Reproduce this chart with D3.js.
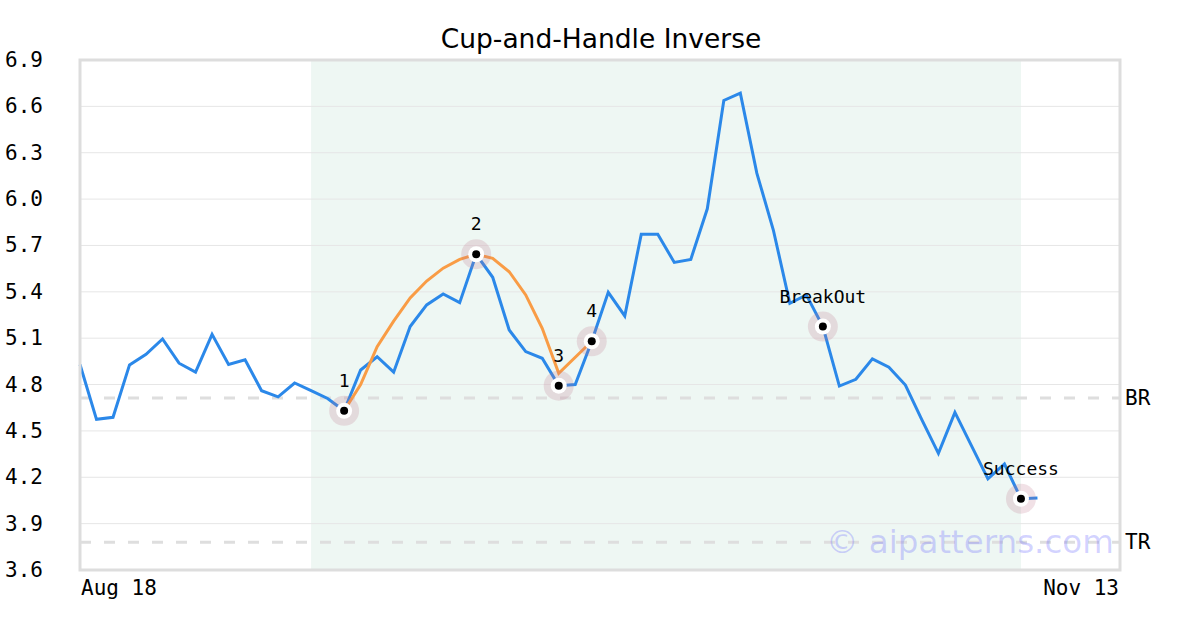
<!DOCTYPE html>
<html>
<head>
  <meta charset="utf-8">
  <script src="https://d3js.org/d3.v7.min.js"></script>
  <style>
    body{ margin:0; background:#fff; }
    .mono{ font-family:"DejaVu Sans Mono", monospace; }
  </style>
</head>
<body>
  <svg width="1200" height="630" id="chart"></svg>
  <script>
    // price series, one value per trading day (index 0 = Aug 18)
    var prices = [
      4.93, 4.575, 4.588, 4.927, 4.996, 5.095, 4.938, 4.88, 5.125, 4.93,
      4.96, 4.76, 4.72, 4.81, 4.76, 4.71, 4.63, 4.894, 4.98, 4.88,
      5.175, 5.315, 5.386, 5.33, 5.643, 5.494, 5.153, 5.013, 4.97, 4.793,
      4.80, 5.08, 5.397, 5.244, 5.773, 5.773, 5.59, 5.61, 5.937, 6.638,
      6.685, 6.168, 5.80, 5.326, 5.38, 5.175, 4.79, 4.834, 4.966, 4.912,
      4.797, 4.571, 4.355, 4.62, 4.405, 4.19, 4.286, 4.061, 4.066
    ];

    // fitted cup (orange), index -> value
    var cupIdx = [16, 17, 18, 19, 20, 21, 22, 23, 24, 25, 26, 27, 28, 29, 31];
    var cupVals = [4.63, 4.80, 5.045, 5.21, 5.36, 5.47, 5.553, 5.61, 5.643, 5.617, 5.53, 5.38, 5.164, 4.873, 5.08];

    // pattern points
    var markIdx = [16, 24, 29, 31, 45, 57];
    var markLabels = ["1", "2", "3", "4", "BreakOut", "Success"];

    // shaded pattern window
    var shadeRange = [14, 57];

    // reference levels
    var levelNames = ["BR", "TR"];
    var levelVals = [4.713, 3.78];

    var yTicks = [3.6, 3.9, 4.2, 4.5, 4.8, 5.1, 5.4, 5.7, 6.0, 6.3, 6.6, 6.9];
    var xTickIdx = [0, 63];
    var xTickLabels = ["Aug 18", "Nov 13"];

    var svg = d3.select("svg#chart");
    var plotL = 80, plotT = 60, plotR = 1120, plotB = 570;

    var x = d3.scaleLinear().domain([0, 63]).range([plotL, plotR]);
    var y = d3.scaleLinear().domain([3.6, 6.9]).range([plotB, plotT]);

    //title
    svg.append("text")
      .attr("x", 601).attr("y", 48)
      .attr("text-anchor", "middle")
      .style("font-family", "DejaVu Sans, sans-serif")
      .style("font-size", "26.5px")
      .text("Cup-and-Handle Inverse");

    //shaded window
    svg.append("rect")
      .attr("x", x(shadeRange[0]))
      .attr("y", plotT)
      .attr("width", x(shadeRange[1]) - x(shadeRange[0]))
      .attr("height", plotB - plotT)
      .attr("fill", "#eef7f3");

    //grid lines
    svg.append("g")
      .selectAll("line")
      .data(yTicks.slice(1, -1))
      .enter().append("line")
      .attr("x1", plotL).attr("x2", plotR)
      .attr("y1", function(d){ return y(d); })
      .attr("y2", function(d){ return y(d); })
      .attr("stroke", "#e6e6e6")
      .attr("stroke-width", 1);

    //y tick labels
    svg.append("g")
      .selectAll("text")
      .data(yTicks)
      .enter().append("text")
      .attr("class", "mono")
      .attr("x", 5)
      .attr("y", function(d){ return y(d) + 7; })
      .style("font-size", "21px")
      .text(function(d){ return d.toFixed(1); });

    //x tick labels
    svg.append("g")
      .selectAll("text")
      .data(xTickIdx)
      .enter().append("text")
      .attr("class", "mono")
      .attr("x", function(d, i){ return i == 0 ? x(d) + 1 : x(d) - 1; })
      .attr("y", 595)
      .attr("text-anchor", function(d, i){ return i == 0 ? "start" : "end"; })
      .style("font-size", "21px")
      .text(function(d, i){ return xTickLabels[i]; });

    //dashed levels
    svg.append("g")
      .selectAll("line")
      .data(levelVals)
      .enter().append("line")
      .attr("x1", plotL).attr("x2", plotR)
      .attr("y1", function(d){ return y(d); })
      .attr("y2", function(d){ return y(d); })
      .attr("stroke", "#dedede")
      .attr("stroke-width", 3)
      .attr("stroke-dasharray", "11,13");

    svg.append("g")
      .selectAll("text")
      .data(levelVals)
      .enter().append("text")
      .attr("class", "mono")
      .attr("x", 1125)
      .attr("y", function(d){ return y(d) + 7; })
      .style("font-size", "21px")
      .text(function(d, i){ return levelNames[i]; });

    //price line
    var line = d3.line()
      .x(function(d, i){ return x(i); })
      .y(function(d){ return y(d); });

    svg.append("path")
      .datum(prices)
      .attr("d", line)
      .attr("fill", "none")
      .attr("stroke", "#2b88e9")
      .attr("stroke-width", 3);

    //cup line
    var cupLine = d3.line()
      .x(function(d, i){ return x(cupIdx[i]); })
      .y(function(d){ return y(d); });

    svg.append("path")
      .datum(cupVals)
      .attr("d", cupLine)
      .attr("fill", "none")
      .attr("stroke", "#f99c45")
      .attr("stroke-width", 3);

    //frame
    svg.append("rect")
      .attr("x", plotL).attr("y", plotT)
      .attr("width", plotR - plotL).attr("height", plotB - plotT)
      .attr("fill", "none")
      .attr("stroke", "#dddddd")
      .attr("stroke-width", 3);

    //markers
    var marks = svg.append("g")
      .selectAll("g")
      .data(markIdx)
      .enter().append("g")
      .attr("transform", function(d){ return "translate(" + x(d) + "," + y(prices[d]) + ")"; });

    marks.append("circle").attr("r", 15).attr("fill", "rgba(190,120,140,0.22)");
    marks.append("circle").attr("r", 8).attr("fill", "#fff");
    marks.append("circle").attr("r", 4).attr("fill", "#000");

    marks.append("text")
      .attr("class", "mono")
      .attr("y", -24)
      .attr("text-anchor", "middle")
      .style("font-size", "18px")
      .text(function(d, i){ return markLabels[i]; });

    //watermark
    svg.append("text")
      .attr("x", 826).attr("y", 553)
      .style("font-family", "DejaVu Sans, sans-serif")
      .style("font-size", "32.5px")
      .attr("fill", "rgba(100,100,255,0.28)")
      .text("© aipatterns.com");
  </script>
</body>
</html>
